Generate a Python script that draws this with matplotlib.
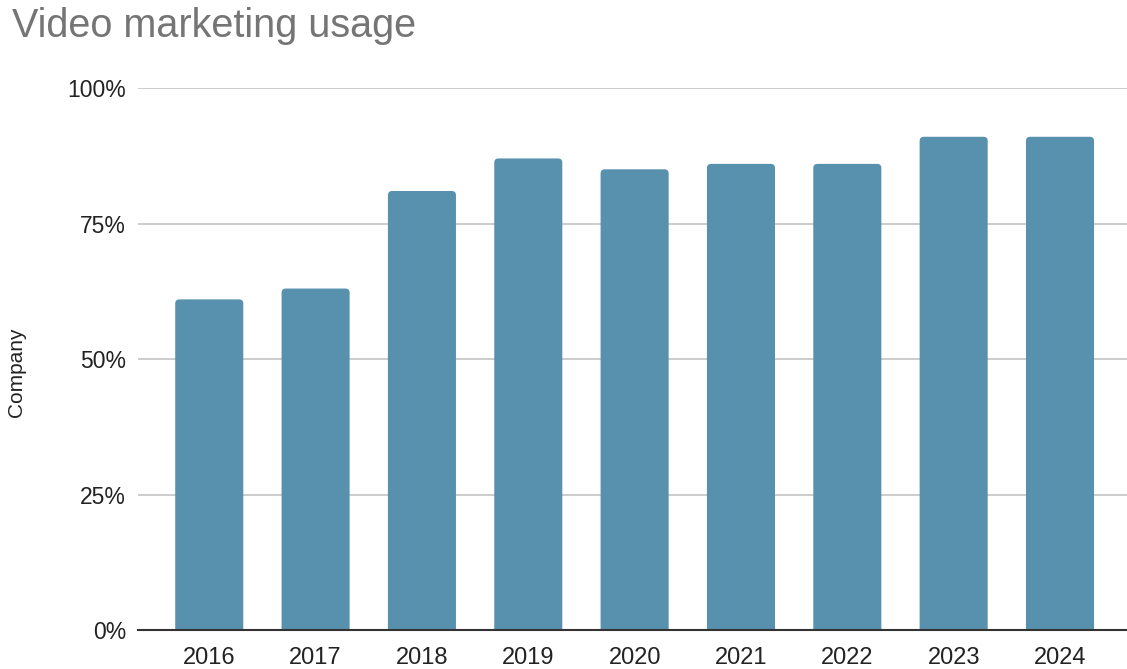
import matplotlib
matplotlib.use("Agg")
import matplotlib.pyplot as plt
from matplotlib.patches import FancyBboxPatch
from matplotlib.ticker import FuncFormatter

years = ["2016", "2017", "2018", "2019", "2020", "2021", "2022", "2023", "2024"]
usage = [0.61, 0.63, 0.81, 0.87, 0.85, 0.86, 0.86, 0.91, 0.91]
y_ticks = [0, 0.25, 0.5, 0.75, 1.0]

bar_color = "#5891ad"
plt.rcParams["font.family"] = ["Liberation Sans", "DejaVu Sans"]

W, H = 1127, 669
fig = plt.figure(figsize=(W / 100, H / 100), dpi=100)
ax = fig.add_axes([138 / W, 1 - 630 / H, 1 - 138 / W, (630 - 88) / H])

x = list(range(len(years)))
bars = ax.bar(x, usage, width=0.64, color=bar_color, zorder=3)

# swap plain rectangles for ones with softly rounded tops
for b in bars:
    bx, by = b.get_x(), b.get_y()
    bw, bh = b.get_width(), b.get_height()
    b.set_visible(False)
    patch = FancyBboxPatch((bx, by - 0.02), bw, bh + 0.02,
                           boxstyle="round,pad=0,rounding_size=0.04",
                           mutation_aspect=0.19,
                           facecolor=bar_color, edgecolor="none", zorder=3,
                           clip_on=True)
    ax.add_patch(patch)

ax.set_xlim(-0.67, 8.63)
ax.set_ylim(0, 1.0)
ax.set_yticks(y_ticks)
ax.yaxis.set_major_formatter(FuncFormatter(lambda v, _: f"{v * 100:.0f}%"))
ax.set_xticks(x)
ax.set_xticklabels(years)

ax.grid(axis="y", color="#cccccc", linewidth=1.4, zorder=0)
ax.set_axisbelow(True)
for side in ["top", "right", "left"]:
    ax.spines[side].set_visible(False)
ax.spines["bottom"].set_color("#333333")
ax.spines["bottom"].set_linewidth(1.5)
ax.spines["bottom"].set_zorder(4)
ax.tick_params(axis="y", length=0, labelsize=16.5, colors="#222222", pad=8.5)
ax.tick_params(axis="x", length=0, labelsize=17, colors="#222222", pad=12)

fig.text(17 / W, 1 - 372 / H, "Company", fontsize=15, color="#222222",
         rotation=90, va="center", ha="center")

fig.text(12 / W, 1 - 26 / H, "Video marketing usage", fontsize=28.5,
         color="#757575", va="center", ha="left")

fig.savefig("out.png", dpi=100)
